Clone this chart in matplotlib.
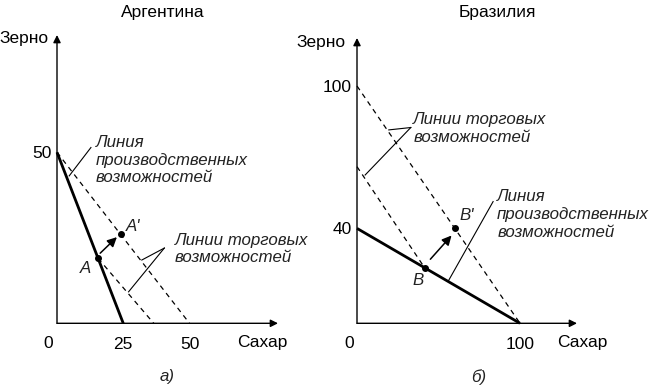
import matplotlib.pyplot as plt

plt.rcParams['font.family'] = ['Liberation Sans', 'DejaVu Sans']

# Аргентина
arg_ppf_x = [0, 25]
arg_ppf_y = [50, 0]
arg_trade_x = [0, 50]
arg_trade_y = [50, 0]
arg_trade2_x = [15.5, 36.5]
arg_trade2_y = [19, 0]
arg_A = (15.5, 19)
arg_A2 = (24, 26)
arg_xticks = [25, 50]
arg_yticks = [50]

# Бразилия
bra_ppf_x = [0, 100]
bra_ppf_y = [40, 0]
bra_trade_x = [0, 100]
bra_trade_y = [100, 0]
bra_trade2_x = [0, 41.5]
bra_trade2_y = [66, 23.4]
bra_B = (41.5, 23.4)
bra_B2 = (60, 40)
bra_xticks = [100]
bra_yticks = [40, 100]

W, H = 650, 387
fig = plt.figure(figsize=(W / 100, H / 100), dpi=100)


def make_axes(x0, y0, x1, y1, sx, sy):
    # x0,y0 = origin in px, x1 = x-arrow tip, y1 = y-arrow tip, sx/sy px per unit
    ax = fig.add_axes([x0 / W, (H - y0) / H, (x1 - x0) / W, (y0 - y1) / H])
    ax.set_xlim(0, (x1 - x0) / sx)
    ax.set_ylim(0, (y0 - y1) / sy)
    for s in ax.spines.values():
        s.set_visible(False)
    ax.patch.set_alpha(0)
    ax.annotate('', xy=(1, 0), xytext=(0, 0), xycoords='axes fraction',
                arrowprops=dict(arrowstyle='-|>', lw=1, color='k',
                                mutation_scale=11, shrinkA=0, shrinkB=0))
    ax.annotate('', xy=(0, 1), xytext=(0, 0), xycoords='axes fraction',
                arrowprops=dict(arrowstyle='-|>', lw=1, color='k',
                                mutation_scale=11, shrinkA=0, shrinkB=0))
    ax.tick_params(length=0, labelsize=12.5)
    ax.tick_params(axis='x', pad=10)
    ax.tick_params(axis='y', pad=4)
    return ax


def draw(ax, ppf_x, ppf_y, tr_x, tr_y, tr2_x, tr2_y, P, P2, a0, a1):
    ax.plot(ppf_x, ppf_y, color='k', lw=2, clip_on=False, solid_capstyle='butt')
    ax.plot(tr_x, tr_y, color='k', lw=0.9, ls=(0, (4, 3.5)), clip_on=False)
    ax.plot(tr2_x, tr2_y, color='k', lw=0.9, ls=(0, (4, 3.5)), clip_on=False)
    ax.plot([P[0], P2[0]], [P[1], P2[1]], 'o', color='k', ms=4, ls='none')
    ax.annotate('', xy=a1, xytext=a0,
                arrowprops=dict(arrowstyle='-|>', lw=1.1, color='k',
                                mutation_scale=14, shrinkA=0, shrinkB=0))


it = dict(fontsize=12.2, style='italic', color='#222222')
ls = 1.22

# left panel
ax1 = make_axes(57, 323.3, 278, 35, 2.65, 3.42)
draw(ax1, arg_ppf_x, arg_ppf_y, arg_trade_x, arg_trade_y,
     arg_trade2_x, arg_trade2_y, arg_A, arg_A2, (16.3, 20.5), (22.6, 25.2))
ax1.set_xticks(arg_xticks, [str(v) for v in arg_xticks])
ax1.set_yticks(arg_yticks, [str(v) for v in arg_yticks])
ax1.text(-3.5, -6, '0', fontsize=12.5, ha='center', va='center')
ax1.text(13, 16, 'A', ha='right', va='center', **it)
ax1.text(26, 28.2, "A'", ha='left', va='center', **it)
# leader lines
ax1.plot([12.8, 4.6], [51.4, 43.1], color='k', lw=0.8)
ax1.plot([40.5, 32.0], [22.0, 18.5], color='k', lw=0.8)
ax1.plot([40.5, 27.0], [22.0, 9.2], color='k', lw=0.8)
ax1.text(14.5, 47.7, 'Линия\nпроизводственных\nвозможностей', ha='left', va='center',
         linespacing=ls, **it)
ax1.text(44.5, 21.7, 'Линии торговых\nвозможностей', ha='left', va='center',
         linespacing=ls, **it)

# right panel
ax2 = make_axes(357, 323.3, 577, 38, 1.63, 2.373)
draw(ax2, bra_ppf_x, bra_ppf_y, bra_trade_x, bra_trade_y,
     bra_trade2_x, bra_trade2_y, bra_B, bra_B2, (45, 27), (58, 37))
ax2.set_xticks(bra_xticks, [str(v) for v in bra_xticks])
ax2.set_yticks(bra_yticks, [str(v) for v in bra_yticks])
ax2.text(-4.5, -8.5, '0', fontsize=12.5, ha='center', va='center')
ax2.text(41, 18.2, 'B', ha='right', va='center', **it)
ax2.text(63, 45.5, "B'", ha='left', va='center', **it)
ax2.plot([33, 19.5], [82.5, 81.5], color='k', lw=0.8)
ax2.plot([33, 5], [82.5, 62.5], color='k', lw=0.8)
ax2.plot([83.5, 56], [51.3, 17.8], color='k', lw=0.8)
ax2.text(34.5, 82, 'Линии торговых\nвозможностей', ha='left', va='center',
         linespacing=ls, **it)
ax2.text(86, 45.8, 'Линия\nпроизводственных\nвозможностей', ha='left', va='center',
         linespacing=ls, **it)

# titles and axis names
fig.text(163 / W, 1 - 13 / H, 'Аргентина', ha='center', va='center', fontsize=12.5)
fig.text(497 / W, 1 - 13 / H, 'Бразилия', ha='center', va='center', fontsize=12.5)
fig.text(24 / W, 1 - 38 / H, 'Зерно', ha='center', va='center', fontsize=12.5)
fig.text(321 / W, 1 - 42 / H, 'Зерно', ha='center', va='center', fontsize=12.5)
fig.text(262 / W, 1 - 343 / H, 'Сахар', ha='center', va='center', fontsize=12.5)
fig.text(582 / W, 1 - 343 / H, 'Сахар', ha='center', va='center', fontsize=12.5)
fig.text(167 / W, 1 - 377 / H, 'а)', ha='center', va='center', **it)
fig.text(479 / W, 1 - 377 / H, 'б)', ha='center', va='center', **it)

fig.savefig('out.png', dpi=100)
